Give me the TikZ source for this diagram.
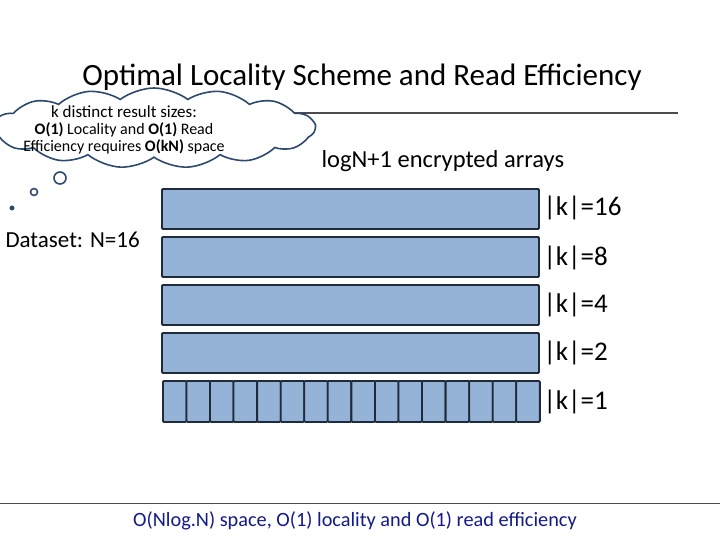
\documentclass[tikz,border=0pt]{standalone}
\usepackage{fontspec}
\setmainfont{Carlito}
\usetikzlibrary{shapes.symbols}
\definecolor{barfill}{HTML}{95B3D7}
\definecolor{bardraw}{HTML}{1F2B3A}
\definecolor{cloudline}{HTML}{2C4A6E}

\begin{document}
\begin{tikzpicture}[x=1pt,y=-1pt,
bar/.style={draw=bardraw,line width=1.8pt,fill=barfill,rounded corners=1pt},
cell/.style={draw=bardraw,line width=1.8pt,fill=barfill,minimum width=23.56pt,minimum height=41pt,inner sep=0pt,rounded corners=1pt},
lbl/.style={anchor=west,font=\fontsize{27}{30}\selectfont}]
%================================================================
%	Frame
\useasboundingbox (0,0) rectangle (720,540);
\node (title) at (362,77) {\fontsize{31}{34}\selectfont Optimal Locality Scheme and Read Efficiency};
\draw[line width=1.2pt,black!70] (80,113) -- (678,113);
\draw[line width=1pt,black!70] (0,503) -- (720,503);

%================================================================
%	Cloud
\node[cloud,cloud puffs=15,cloud puff arc=75,draw=cloudline,line width=1.6pt,fill=white,
 minimum width=322pt,minimum height=80pt] (cloud) at (154,128) {};
\node[align=center,inner sep=0pt] (think) at (124,130)
 {{\fontsize{17}{19}\selectfont k distinct result sizes:}\\[4pt]
 {\fontsize{16}{19}\selectfont\textbf{O(1)} Locality and \textbf{O(1)} Read}\\[1pt]
 {\fontsize{16}{19}\selectfont Efficiency requires \textbf{O(kN)} space}};
\draw[cloudline,line width=1.6pt] (60,178) circle (6);
\draw[cloudline,line width=1.6pt] (34,192) circle (3.5);
\fill[cloudline] (12,208) circle (2.5);

%================================================================
%	Arrays
\node[lbl,font=\fontsize{24.5}{27}\selectfont] (head) at (318,161) {logN+1 encrypted arrays};
\node[anchor=west,font=\fontsize{23}{26}\selectfont] (data) at (2,240) {Dataset: N=16};
\draw[bar] (162,189) rectangle (539,229);
\draw[bar] (162,237) rectangle (539,277);
\draw[bar] (162,285) rectangle (539,325);
\draw[bar] (162,333) rectangle (539,373);
\foreach \i in {0,...,15}
  \node[cell,anchor=north west] (c\i) at (162+\i*23.56,380) {};
\node[lbl] (k16) at (540,208) {|k|=16};
\node[lbl] (k8) at (540,258) {|k|=8};
\node[lbl] (k4) at (540,305) {|k|=4};
\node[lbl] (k2) at (540,353) {|k|=2};
\node[lbl] (k1) at (540,402) {|k|=1};
%----------------------------------------------------------------
\node[font=\fontsize{20.3}{23}\selectfont,text=bardraw!60!blue] (foot) at (355,521) {O(Nlog.N) space, O(1) locality and O(1) read efficiency};
\end{tikzpicture}
\end{document}
